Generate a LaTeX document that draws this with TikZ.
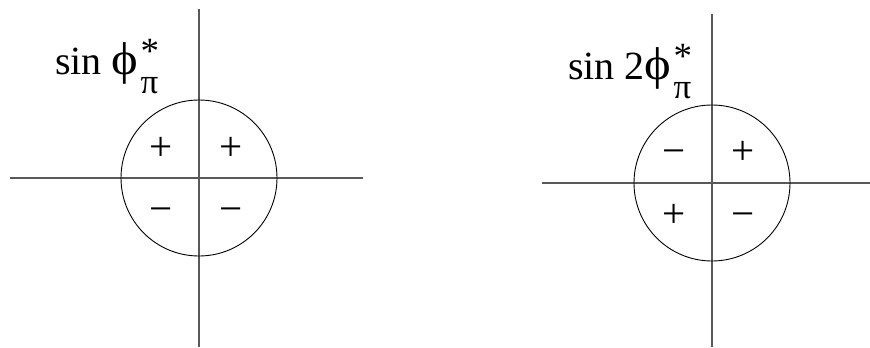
\documentclass[tikz,border=0pt]{standalone}
\usepackage{fontspec}
\usepackage{graphicx}
\setmainfont{Liberation Serif}
\newcommand{\phisym}{{\fontsize{46}{46}\selectfont\scalebox{1.1}[1]{\symbol{"03D5}}}\kern2pt}
\newcommand{\supsub}[2]{\rlap{\raisebox{11pt}{\fontsize{37}{37}\selectfont #1}}\raisebox{-19pt}{\fontsize{35}{35}\selectfont #2}}
\begin{document}
\begin{tikzpicture}[x=1pt,y=-1pt,
  axis/.style={draw=black!65,line width=1.1pt},
  ring/.style={draw=black,line width=0.9pt},
  sign/.style={font=\fontsize{41}{41}\selectfont,inner sep=0pt,anchor=base},
  title/.style={font=\fontsize{40}{48}\selectfont,inner sep=0pt,anchor=base west}]
\useasboundingbox (0,0) rectangle (870,348);
% left diagram
\coordinate (lt) at (199,9);
\coordinate (lb) at (199,347);
\coordinate (ll) at (10,178);
\coordinate (lr) at (363,178);
\coordinate (lc) at (199,178);
\draw[axis] (lt) -- (lb);
\draw[axis] (ll) -- (lr);
\draw[ring] (lc) circle[radius=78];
\node[title] (ltitle) at (55,74) {sin \phisym\supsub{*}{π}};
\node[sign] (lq1) at (231,160) {+};
\node[sign] (lq2) at (161,160) {+};
\node[sign] (lq3) at (161,222) {−};
\node[sign] (lq4) at (231,222) {−};
% right diagram
\coordinate (rt) at (712,14);
\coordinate (rb) at (712,347);
\coordinate (rl) at (542,183);
\coordinate (rr) at (870,183);
\coordinate (rc) at (712,183);
\draw[axis] (rt) -- (rb);
\draw[axis] (rl) -- (rr);
\draw[ring] (rc) circle[radius=78];
\node[title] (rtitle) at (568,79) {sin 2\phisym\supsub{*}{π}};
\node[sign] (rq1) at (743,164) {+};
\node[sign] (rq2) at (674,227) {+};
\node[sign] (rq3) at (674,164) {−};
\node[sign] (rq4) at (743,227) {−};
\end{tikzpicture}
\end{document}
